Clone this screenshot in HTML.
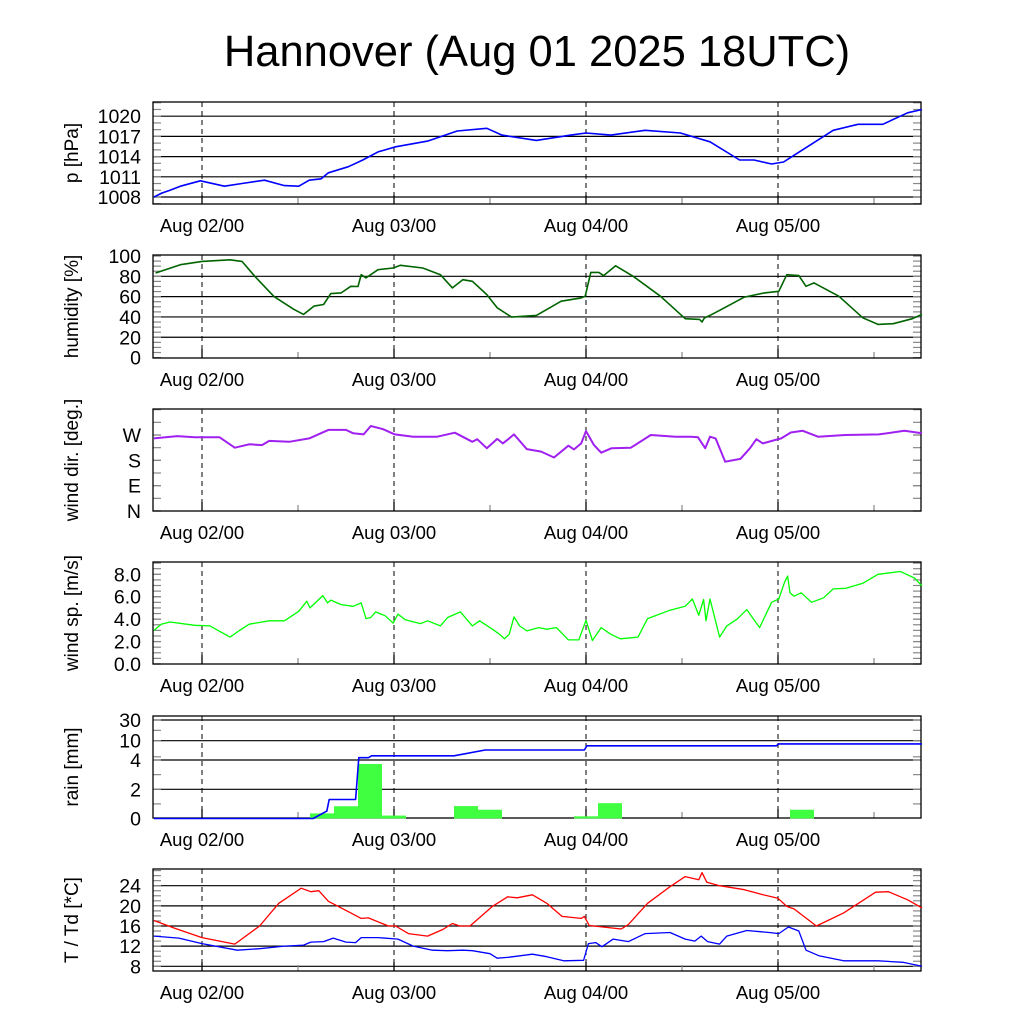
<!DOCTYPE html>
<html><head><meta charset="utf-8"><style>
body{margin:0;background:#fff;}
svg text{font-family:"Liberation Sans",sans-serif;fill:#000;}
</style></head><body>
<svg id="chart" width="1024" height="1024" xmlns="http://www.w3.org/2000/svg">
<text x="537" y="66" font-size="43.5" text-anchor="middle">Hannover (Aug 01 2025 18UTC)</text>
</svg>
<script>
// ---- data (hours since Aug 01 18UTC) ----
const dayLabels=["Aug 02/00","Aug 03/00","Aug 04/00","Aug 05/00"];
const dayHours=[6,30,54,78];
const presH=[0,1,2,3.3,5.8,8.8,11,13.8,16.3,18.1,19.4,20.9,21.8,24.3,26.1,28.0,30.2,34.2,37.9,41.6,43.5,47.8,52.1,54.0,57.1,61.4,65.8,69.5,73.2,75.0,77.2,78.7,80.0,84.9,88.0,91.1,94.2,96];
const presV=[1008.0,1008.6,1009.0,1009.6,1010.4,1009.6,1010.0,1010.5,1009.7,1009.6,1010.5,1010.7,1011.6,1012.5,1013.5,1014.7,1015.45,1016.3,1017.8,1018.2,1017.2,1016.4,1017.2,1017.5,1017.2,1017.9,1017.5,1016.2,1013.5,1013.5,1012.9,1013.2,1014.2,1017.9,1018.8,1018.8,1020.5,1021.0];
const humH=[0.2,3.3,6,9.5,11,12.6,15,17.5,18.7,20,21.2,22.1,23.4,24.6,25.5,25.9,26.5,28,29.9,30.8,33.6,35.8,37.3,38.6,39.8,41.6,42.9,44.7,47.8,50.9,53.4,53.9,54.6,55.6,56.2,57.7,59.9,63.3,66.4,68.2,68.5,68.8,69.5,71.3,73.8,76.3,78.1,79.1,80.6,81.5,82.5,85.6,88.6,90.5,92.4,94.8,96];
const humV=[83.3,91.4,94.7,96.3,94.7,80,60,47.4,42.5,50.7,52.3,63,63.7,70.2,70,81.6,78.4,86.5,88.2,90.8,88.2,81.6,68.6,76.7,75.1,62,49,39.9,41.5,55.5,58.8,60.4,83.9,83.9,80.7,90.4,80,60.4,38.3,37.6,35,39,41.5,49,59.5,63.7,65.3,81.6,80.7,70.2,73.5,60.4,39.2,32.7,33.4,38.3,42.5];
const dirH=[0,2.9,5.1,8.2,10.1,11.9,13.5,14.4,16.9,19.4,21.8,24,24.9,26.2,27.1,28.6,30.1,32.4,35.4,37.6,39.8,40.4,41.6,42.9,43.6,44.4,45,46.6,48.4,50,51.8,52.5,53.4,54,55,55.9,57.2,59.6,62.1,65.2,67.1,68,68.9,69.5,70.2,71.4,73.3,74.5,75.3,76.1,78.4,79.6,81.1,83,86.4,90.6,93.8,96];
const dirV=[258,266,262,262,225,237,234,249,246,258,288,288,276,272,302,291,272,264,264,278,246,255,223,256,240,258,272,220,211,190,232,219,240,284,234,207,223,225,270,264,264,262,223,264,258,175,185,223,255,240,258,279,285,264,270,272,285,276];
const spdH=[0,0.9,2,5.1,7,9.5,10.7,11.9,14.4,16.3,18.1,19.1,19.5,20.6,21.1,21.7,22.1,23.4,24.9,25.9,26.5,27.1,27.7,28.9,29.9,30.5,31.4,33.3,34.2,35.8,36.7,38.3,39.8,40.7,42.3,43.2,43.8,44.4,45,45.7,46.6,48.1,49.1,50.3,51.8,53.1,54,54.8,55.9,57.1,58.3,60.5,61.7,64.5,66.4,67.3,68.1,68.7,69,69.5,70.7,71.6,72.9,74.1,75.7,77.2,78.1,78.8,79.2,79.5,80,80.9,82.2,83.7,84.9,86.5,88.6,90.5,93.3,95.1,96];
const spdV=[3.0,3.55,3.75,3.45,3.4,2.4,3.0,3.55,3.85,3.85,4.7,5.6,5.0,5.75,6.1,5.45,5.7,5.3,5.15,5.45,4.05,4.15,4.65,4.3,3.65,4.45,3.95,3.6,3.85,3.4,4.15,4.65,3.4,3.85,3.1,2.65,2.25,2.65,4.2,3.4,2.95,3.25,3.1,3.25,2.15,2.15,3.9,2.1,3.25,2.65,2.25,2.4,4.05,4.8,5.15,5.8,4.35,5.75,3.85,5.8,2.4,3.4,4.0,4.85,3.25,5.5,5.8,7.25,7.85,6.35,6.05,6.35,5.5,5.9,6.7,6.75,7.2,8.0,8.25,7.65,6.95];
const rainBarH=[21,24,27,30,39,42,54,57,81];
const rainBarV=[0.35,0.84,3.73,0.2,0.85,0.6,0.15,1.05,0.6];
const rainSumH=[0,19.9,21.4,21.6,21.9,25.2,25.6,26.8,27.2,37.5,41.4,53.8,54.1,77.8,78.1,96];
const rainSumV=[0,0,0.45,0.5,1.3,1.3,4.7,4.7,5.3,5.3,7.1,7.1,8.4,8.4,9.0,9.0];
const tH=[0,2.5,6,10.1,13.2,15.6,18.4,19.6,20.6,21.8,24.6,25.9,26.8,29.3,30.2,31.8,34.2,36.1,37.3,38.2,39.5,42.3,44.2,45.4,47.3,49.1,51,53.4,53.8,54.4,58.4,59.3,61.7,64.5,66.4,68.1,68.5,69.1,70.7,73.8,75.9,78,79.1,80,82.8,86.2,90.2,91.8,94.2,96];
const tV=[17.1,15.6,13.7,12.4,16,20.5,23.5,22.8,23,20.9,18.6,17.5,17.6,16,16,14.5,14,15.3,16.5,16,16,19.9,21.8,21.6,22.2,20.5,17.9,17.5,17.9,16.1,15.4,16.3,20.5,23.8,25.8,25.2,26.6,24.7,24,23.2,22.3,21.5,19.9,19.4,16,18.6,22.7,22.8,21.2,19.6];
const tdH=[0,3.1,6,10.4,13.2,16.3,18.7,19.6,21.2,22.4,24,25.2,25.9,28,30.5,32.4,34.8,36.7,38.6,39.8,42,42.9,44.4,47.3,49.1,51.2,53.7,54.3,55.2,56,57.4,59.3,61.4,64.5,66.4,67.6,68.4,69.2,70.7,71.6,74.1,76.9,78.1,79.3,80.6,81.5,83.1,86.2,90.5,93.6,96];
const tdV=[14,13.6,12.5,11.2,11.5,12,12.2,12.8,12.9,13.6,12.8,12.7,13.7,13.7,13.4,12,11.2,11.1,11.2,11.1,10.5,9.6,9.8,10.4,9.9,9.1,9.2,12.5,12.7,11.9,13.4,12.9,14.5,14.7,13.4,13,14,12.9,12.4,14,15.1,14.7,14.5,15.8,15,11.2,10.1,9.1,9.1,8.8,8];

const svg=document.getElementById('chart');
const NS="http://www.w3.org/2000/svg";
const L=153,R=921;
function x(h){return 154+h*8;}
function mk(tag,attrs,parent){const e=document.createElementNS(NS,tag);for(const k in attrs)e.setAttribute(k,attrs[k]);(parent||svg).appendChild(e);return e;}
function lin(v0,y0,v1,y1){return v=>y0+(v-v0)*(y1-y0)/(v1-v0);}
function pw(vals,ys){return v=>{for(let i=0;i<vals.length-1;i++){if(v<=vals[i+1]||i==vals.length-2)return ys[i]+(v-vals[i])*(ys[i+1]-ys[i])/(vals[i+1]-vals[i]);}};}

function panel(name,top,bot,yf,majors,labels,minors,grid,ylabel){
  const g=mk('g',{});
  
  
  if(grid){majors.forEach(v=>{const y=yf(v);if(y>top+1&&y<bot-1){const l=mk('line',{x1:L,x2:R,y1:y,y2:y,stroke:'#000','stroke-width':1.2},g);}});}
  minors.concat(majors).forEach(v=>{const y=yf(v);if(y>=top&&y<=bot){
    const a=mk('line',{x1:L,x2:L+8,y1:y,y2:y,stroke:'#888','stroke-width':1.2},g);
    const b=mk('line',{x1:R-8,x2:R,y1:y,y2:y,stroke:'#888','stroke-width':1.2},g);}});
  majors.forEach((v,i)=>{const t=mk('text',{x:141,y:yf(v)+7,'font-size':19.5,'text-anchor':'end'},g);t.textContent=labels[i];});
  dayHours.forEach((h,i)=>{
    const d=mk('line',{x1:x(h),x2:x(h),y1:top,y2:bot,stroke:'#000','stroke-width':1,'stroke-dasharray':'5,4'},g);
    const tk=mk('line',{x1:x(h),x2:x(h),y1:bot-9,y2:bot,stroke:'#000','stroke-width':1.3},g);
    const mt=mk('line',{x1:x(h+12),x2:x(h+12),y1:bot-6,y2:bot,stroke:'#888','stroke-width':1.2},g);
    const tl=mk('text',{x:x(h),y:bot+28,'font-size':18.5,'text-anchor':'middle'},g);tl.textContent=dayLabels[i];
  });
  const fr=mk('rect',{x:L,y:top,width:R-L,height:bot-top,fill:'none',stroke:'#000','stroke-width':1.3},g);
  const cy=(top+bot)/2;
  const yl=mk('text',{x:0,y:0,'font-size':19,'text-anchor':'middle',transform:`translate(78,${cy}) rotate(-90)`},g);yl.textContent=ylabel;
  return g;
}
function series(name,hs,vs,yf,color,w){
  const d=hs.map((h,i)=>(i?'L':'M')+x(h).toFixed(1)+','+yf(vs[i]).toFixed(1)).join(' ');
  const p=mk('path',{d:d,fill:'none',stroke:color,'stroke-width':w||1.6,'stroke-linejoin':'round'});
  
  
}
function range(a,b,s){const r=[];for(let v=a;v<=b+1e-9;v+=s)r.push(+v.toFixed(3));return r;}

const yP=lin(1008,197,1020,116.2);
panel('pressure',102,204,yP,[1008,1011,1014,1017,1020],['1008','1011','1014','1017','1020'],range(1007,1022,1),true,'p [hPa]');
series('pressure-line',presH,presV,yP,'#0000ff');
const yH=lin(0,357.6,100,256);
panel('humidity',255,358,yH,[0,20,40,60,80,100],['0','20','40','60','80','100'],range(0,100,5),true,'humidity [%]');
series('humidity-line',humH,humV,yH,'#006400');
const yD=lin(0,511,270,435);
panel('wind-dir',409,511,yD,[0,90,180,270],['N','E','S','W'],range(0,360,45),false,'wind dir. [deg.]');
series('wind-dir-line',dirH,dirV,yD,'#a020f0',2);
const yS=lin(0,664,8,574.3);
panel('wind-speed',562,664,yS,[0,2,4,6,8],['0.0','2.0','4.0','6.0','8.0'],range(0,9,0.5),false,'wind sp. [m/s]');
series('wind-speed-line',spdH,spdV,yS,'#00ff00',1.3);
const yR=pw([0,2,4,10,30],[818.5,789.3,760,740.7,720]);
panel('rain',716,818,yR,[0,2,4,10,30],['0','2','4','10','30'],[1,3,5,20],true,'rain [mm]');
rainBarH.forEach((h,i)=>{
  const y=yR(rainBarV[i]);
  const b=mk('rect',{x:x(h-1.5),y:y,width:24,height:818.5-y,fill:'#40ff40'});
  
  
});
series('rain-sum-line',rainSumH,rainSumV,yR,'#0000ff');
const yT=lin(8,966.3,24,885.7);
panel('temperature',869,971,yT,[8,12,16,20,24],['8','12','16','20','24'],range(8,27,1),true,'T / Td [*C]');
series('temperature-line',tH,tV,yT,'#ff0000',1.3);
series('dewpoint-line',tdH,tdV,yT,'#0000ff',1.3);
</script>
</body></html>
